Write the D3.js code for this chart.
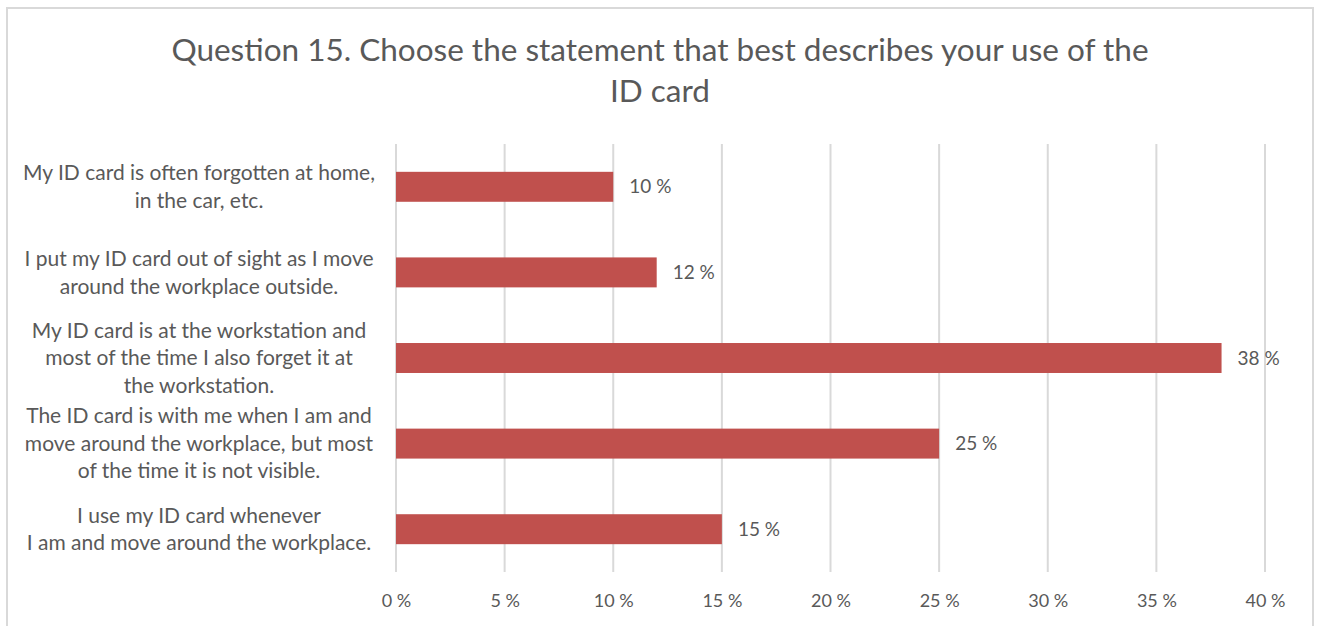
<!DOCTYPE html>
<html>
<head>
<meta charset="utf-8">
<script src="https://cdn.jsdelivr.net/npm/d3@7"></script>
<style>
  html, body { margin: 0; padding: 0; background: #fff; }
  svg { display: block; }
  text { font-family: Lato, "Open Sans", sans-serif; fill: #595959; }
</style>
</head>
<body>
<svg id="chart" width="1317" height="626"></svg>
<script>
// Survey answers, top to bottom, each label split into its display lines
const categories = [
  ["My ID card is often forgotten at home,", "in the car, etc."],
  ["I put my ID card out of sight as I move", "around the workplace outside."],
  ["My ID card is at the workstation and", "most of the time I also forget it at", "the workstation."],
  ["The ID card is with me when I am and", "move around the workplace, but most", "of the time it is not visible."],
  ["I use my ID card whenever", "I am and move around the workplace."]
];
const shares = [10, 12, 38, 25, 15];
const tickValues = [0, 5, 10, 15, 20, 25, 30, 35, 40];
const titleLines = ["Question 15. Choose the statement that best describes your use of the", "ID card"];

const svg = d3.select("#chart");
const W = 1317, H = 626;
const plot = { left: 396, right: 1265, top: 144, bottom: 572 };

// Outer frame (top, left and right edges)
svg.append("path")
  .attr("d", `M7,${H} L7,8 L1313,8 L1313,${H}`)
  .attr("fill", "none")
  .attr("stroke", "#d9d9d9")
  .attr("stroke-width", 2);

// Title
svg.append("g").selectAll("text")
  .data(titleLines)
  .join("text")
  .attr("x", 660)
  .attr("y", (d, i) => 61 + i * 41)
  .attr("text-anchor", "middle")
  .attr("font-size", 31.5)
  .text(d => d);

const x = d3.scaleLinear().domain([0, 40]).range([plot.left, plot.right]);
const y = d3.scaleBand()
  .domain(d3.range(categories.length))
  .range([plot.top, plot.bottom])
  .paddingInner(0.65)
  .paddingOuter(0.325);

// Vertical gridlines
svg.append("g").selectAll("line")
  .data(tickValues)
  .join("line")
  .attr("x1", d => x(d)).attr("x2", d => x(d))
  .attr("y1", plot.top).attr("y2", plot.bottom)
  .attr("stroke", "#d9d9d9")
  .attr("stroke-width", 2);

// Bottom axis labels
const xAxis = d3.axisBottom(x)
  .tickValues(tickValues)
  .tickSize(0)
  .tickPadding(0)
  .tickFormat(d => d + " %");
const axisG = svg.append("g")
  .attr("transform", `translate(0,${plot.bottom + 22})`)
  .call(xAxis);
axisG.select(".domain").remove();
axisG.selectAll("text")
  .attr("font-size", 18)
  .attr("font-family", "Lato, 'Open Sans', sans-serif")
  .attr("fill", "#595959");

// Bars
svg.append("g").selectAll("rect")
  .data(shares)
  .join("rect")
  .attr("x", x(0))
  .attr("y", (d, i) => y(i))
  .attr("width", d => x(d) - x(0))
  .attr("height", y.bandwidth())
  .attr("fill", "#c0504d");

// Value labels
svg.append("g").selectAll("text")
  .data(shares)
  .join("text")
  .attr("x", d => x(d) + 16)
  .attr("y", (d, i) => y(i) + y.bandwidth() / 2)
  .attr("dy", "0.35em")
  .attr("font-size", 19)
  .text(d => d + " %");

// Category labels, centred in the left margin
const lineGap = 27.5;
const catG = svg.append("g").selectAll("text")
  .data(categories)
  .join("text")
  .attr("text-anchor", "middle")
  .attr("font-size", 21);
catG.each(function(lines, i) {
  const cy = y(i) + y.bandwidth() / 2;
  const first = cy - (lines.length - 1) * lineGap / 2;
  d3.select(this).selectAll("tspan")
    .data(lines)
    .join("tspan")
    .attr("x", 199)
    .attr("y", (d, j) => first + j * lineGap)
    .attr("dy", "0.35em")
    .text(d => d);
});
</script>
</body>
</html>
